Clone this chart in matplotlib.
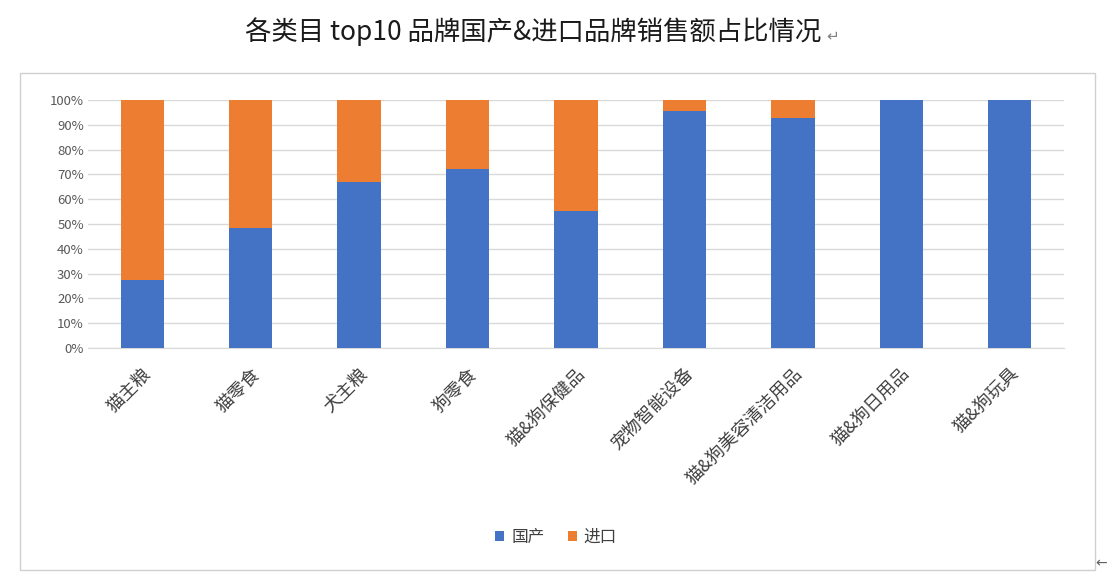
import matplotlib
matplotlib.use("Agg")
import matplotlib.pyplot as plt
from matplotlib.patches import Rectangle
import numpy as np

plt.rcParams['font.family'] = ['Noto Sans CJK SC', 'DejaVu Sans']

categories = ["猫主粮", "猫零食", "犬主粮", "狗零食", "猫&狗保健品", "宠物智能设备",
              "猫&狗美容清洁用品", "猫&狗日用品", "猫&狗玩具"]
domestic = [0.273, 0.485, 0.671, 0.72, 0.553, 0.954, 0.927, 1.0, 1.0]
imported = [1 - v for v in domestic]
yticks = [0, 0.1, 0.2, 0.3, 0.4, 0.5, 0.6, 0.7, 0.8, 0.9, 1.0]
ytick_labels = ["0%", "10%", "20%", "30%", "40%", "50%", "60%", "70%", "80%", "90%", "100%"]
series_names = ["国产", "进口"]

blue = "#4472C4"
orange = "#ED7D31"

fig = plt.figure(figsize=(11.08, 5.78), dpi=100)
fig.patch.set_facecolor("white")

# outer chart border
fig.patches.append(Rectangle((20 / 1108, 1 - 570 / 578), (1095 - 20) / 1108, (570 - 73) / 578,
                             transform=fig.transFigure, fill=False, edgecolor="#D0D0D0", lw=1.0))

ax = fig.add_axes([88 / 1108, 1 - 348 / 578, (1064 - 88) / 1108, 248 / 578])
x = np.arange(len(categories))
ax.bar(x, domestic, width=0.4, color=blue, label=series_names[0], zorder=3)
ax.bar(x, imported, width=0.4, bottom=domestic, color=orange, label=series_names[1], zorder=3)

ax.set_xlim(-0.5, len(categories) - 0.5)
ax.set_ylim(0, 1.0)
ax.set_yticks(yticks)
ax.set_yticklabels(ytick_labels, fontsize=9.5, color="#595959")
ax.yaxis.grid(True, color="#D9D9D9", lw=1.0, zorder=0)
ax.set_axisbelow(True)
for s in ["top", "right", "left"]:
    ax.spines[s].set_visible(False)
ax.spines["bottom"].set_color("#D9D9D9")
ax.tick_params(axis="both", length=0)
ax.tick_params(axis="y", pad=3)
ax.set_xticks(x)
ax.set_xticklabels(categories, rotation=45, ha="right", rotation_mode="anchor",
                   fontsize=13, color="#404040")
ax.tick_params(axis="x", pad=12)

fig.text(533 / 1108, 1 - 32 / 578, "各类目 top10 品牌国产&进口品牌销售额占比情况",
         ha="center", va="center", fontsize=19, color="#1a1a1a")
fig.text(833 / 1108, 1 - 36 / 578, "↵", ha="center", va="center", fontsize=11, color="#808080",
         family=['DejaVu Sans'])
fig.text(1101 / 1108, 1 - 563 / 578, "←", ha="center", va="center", fontsize=10, color="#606060",
         family=['DejaVu Sans'])

leg = fig.legend(loc="center", bbox_to_anchor=(556 / 1108, 1 - 537 / 578), ncol=2, frameon=False,
                 fontsize=12, handlelength=0.55, handleheight=0.55, handletextpad=0.4,
                 columnspacing=1.4)
for t in leg.get_texts():
    t.set_color("#404040")

fig.savefig("out.png", dpi=100, facecolor="white")
